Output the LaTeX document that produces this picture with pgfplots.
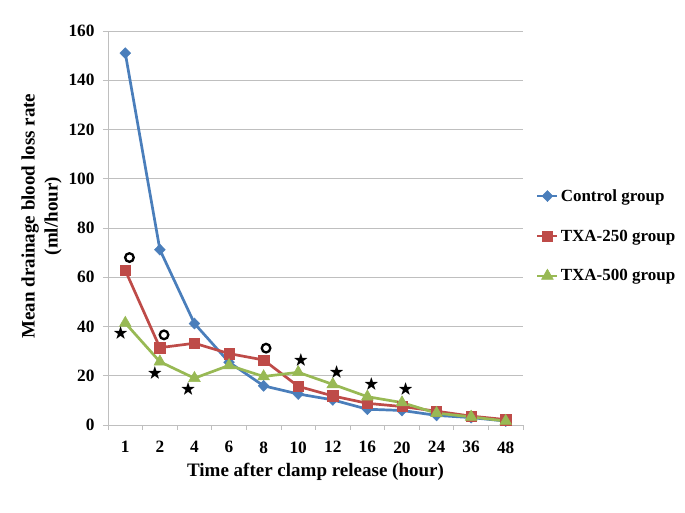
\documentclass[border=0pt]{standalone}
\usepackage{fontspec}
\setmainfont{Liberation Serif}
\usepackage{amssymb}
\usepackage{pgfplots}
\pgfplotsset{compat=1.18}
\definecolor{cblue}{HTML}{4A7EBB}
\definecolor{cred}{HTML}{BE4B48}
\definecolor{cgreen}{HTML}{98B954}
\definecolor{gridgray}{HTML}{BFBFBF}
\begin{document}
\begin{tikzpicture}
\begin{axis}[
  scale only axis, width=415pt, height=394pt,
  xmin=-0.5, xmax=11.5, ymin=0, ymax=160,
  xtick={0,...,11}, xticklabels={1,2,4,6,8,10,12,16,20,24,36,48},
  major x tick style={draw=none},
  minor xtick={-0.5,0.5,...,11.5},
  ytick={0,20,...,160},
  ymajorgrids, major grid style={gridgray, line width=0.8pt},
  axis x line*=bottom, axis y line*=left,
  axis line style={-, gridgray, line width=0.8pt},
  tick style={gridgray, line width=0.8pt},
  tick align=outside, major tick length=5pt, minor tick length=5pt,
  /pgf/number format/assume math mode=true,
  ticklabel style={font=\fontsize{17.3}{19}\selectfont\bfseries},
  xticklabel style={yshift=-8pt},
  yticklabel style={xshift=-5pt},
  xlabel={Time after clamp release (hour)},
  xlabel style={font=\fontsize{19}{22}\selectfont\bfseries, at={(axis description cs:0.5,-0.12)}, anchor=center},
  ylabel={Mean drainage blood loss rate\\(ml/hour)},
  ylabel style={font=\fontsize{19}{23}\selectfont\bfseries, align=center, at={(axis description cs:-0.16,0.53)}, anchor=center},
  legend style={at={(axis description cs:1.031,0.48)}, anchor=west, draw=none, fill=none,
    font=\fontsize{17}{19}\selectfont\bfseries, row sep=23pt, inner sep=0pt},
  legend cell align=left,
  legend image code/.code={\draw[mark repeat=2,mark phase=2] plot coordinates {(0pt,0pt)(10pt,0pt)(20pt,0pt)};},
  clip=false,
]
\addplot[cblue, line width=2.7pt, mark=diamond*, mark size=5.5pt, mark options={solid, xscale=1.3, draw=cblue, fill=cblue, line width=0.5pt}]
  coordinates {(0,151) (1,71.2) (2,41.2) (3,25.5) (4,15.9) (5,12.6) (6,10.2) (7,6.4) (8,5.9) (9,3.9) (10,3.0) (11,1.6)};
\addlegendentry{Control group}
\addplot[cred, line width=2.7pt, mark=square*, mark size=5.2pt, mark options={solid, draw=cred, fill=cred, line width=0.5pt}]
  coordinates {(0,62.8) (1,31.4) (2,33.2) (3,29.0) (4,26.4) (5,15.7) (6,11.8) (7,8.8) (8,7.5) (9,5.6) (10,3.6) (11,2.2)};
\addlegendentry{TXA-250 group}
\addplot[cgreen, line width=2.7pt, mark=triangle*, mark size=6.8pt, mark options={solid, draw=cgreen, fill=cgreen, line width=0.5pt}]
  coordinates {(0,41.4) (1,25.7) (2,19.0) (3,24.2) (4,19.7) (5,21.4) (6,16.5) (7,11.5) (8,9.1) (9,4.8) (10,3.3) (11,1.6)};
\addlegendentry{TXA-500 group}
\addplot[only marks, black, mark=text, text mark={\fontsize{15.5}{15.5}\selectfont$\bigstar$}, forget plot]
  coordinates {(-0.13,36.9) (0.86,21.0) (1.82,14.5) (5.08,26.2) (6.11,21.3) (7.12,16.3) (8.11,14.2)};
\addplot[only marks, mark=o, mark size=4.3pt, mark options={black, line width=2.3pt}, forget plot]
  coordinates {(0.12,68.0) (1.12,36.6) (4.07,31.2)};
\end{axis}
\path (current axis.south west) ++(-108pt,-88pt) rectangle ++(685pt,513pt);
\end{tikzpicture}
\end{document}
